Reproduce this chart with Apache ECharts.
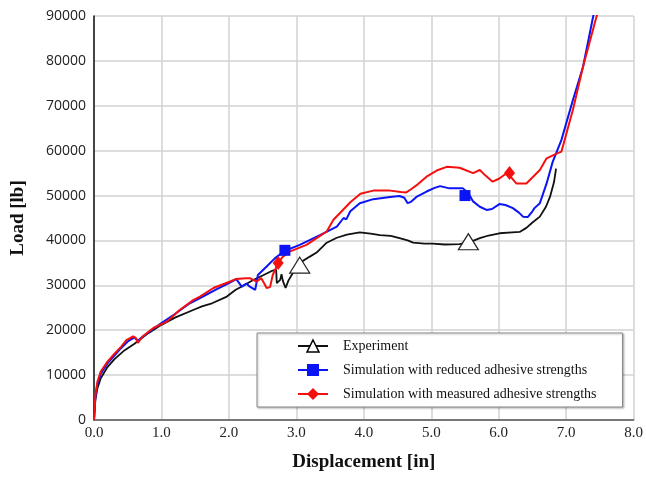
<!DOCTYPE html>
<html>
<head>
<meta charset="utf-8">
<script src="https://cdn.jsdelivr.net/npm/echarts@6/dist/echarts.min.js"></script>
<style>
  html, body { margin: 0; padding: 0; background: #fff; }
  #chart { width: 646px; height: 477px; }
</style>
</head>
<body>
<div id="chart"></div>
<script>
// series names (legend order)
const names = [
  'Experiment',
  'Simulation with reduced adhesive strengths',
  'Simulation with measured adhesive strengths'
]

// [displacement in, load lb]
const experiment = [
  [0,0],[0.02,4500],[0.05,7000],[0.1,9300],[0.2,11800],[0.3,13500],[0.45,15500],[0.6,17000],
  [0.8,19300],[1.0,21200],[1.2,22800],[1.47,24500],[1.6,25300],[1.75,26000],[1.97,27500],
  [2.1,29000],[2.2,29800],[2.36,31200],[2.5,32200],[2.65,33300],[2.7,33500],[2.71,30500],
  [2.76,31200],[2.78,32500],[2.8,31000],[2.84,29400],[2.88,31000],[2.93,32300],[3.05,35000],
  [3.2,36400],[3.3,37300],[3.45,39500],[3.6,40600],[3.75,41300],[3.94,41800],[4.1,41500],
  [4.24,41200],[4.4,41000],[4.53,40500],[4.65,40000],[4.73,39500],[4.9,39300],[5.02,39300],
  [5.2,39100],[5.42,39200],[5.6,39800],[5.72,40500],[5.85,41100],[6.01,41600],[6.2,41800],
  [6.31,41900],[6.41,42800],[6.5,44000],[6.61,45300],[6.7,47500],[6.76,49700],[6.82,53000],
  [6.85,56000]
]
const reduced = [
  [0,0],[0.02,5000],[0.05,8000],[0.1,10300],[0.2,12600],[0.3,14300],[0.4,16000],[0.5,17500],
  [0.6,18400],[0.65,17600],[0.7,18300],[0.85,20000],[1.0,21600],[1.2,23600],[1.4,25800],
  [1.6,27400],[1.8,29000],[2.0,30500],[2.11,31400],[2.19,29700],[2.26,30400],[2.31,29700],
  [2.39,29000],[2.43,32300],[2.56,34200],[2.68,36000],[2.83,37700],[3.05,39000],[3.35,41200],
  [3.6,43100],[3.7,45000],[3.74,44700],[3.8,46500],[3.94,48300],[4.14,49200],[4.39,49700],
  [4.53,49900],[4.6,49500],[4.65,48300],[4.7,48600],[4.78,49700],[4.93,50900],[5.05,51700],
  [5.13,52100],[5.27,51600],[5.47,51600],[5.55,50500],[5.62,48700],[5.72,47500],[5.82,46800],
  [5.9,47000],[6.01,48100],[6.1,47900],[6.21,47200],[6.3,46200],[6.36,45300],[6.43,45200],
  [6.5,46500],[6.53,47200],[6.61,48300],[6.71,52700],[6.8,57500],[6.93,62400],[7.1,71300],
  [7.25,78700],[7.4,89900],[7.45,93000]
]
const measured = [
  [0,0],[0.02,5500],[0.05,8500],[0.1,10800],[0.2,13000],[0.3,14700],[0.4,16300],[0.48,17800],
  [0.58,18600],[0.62,18300],[0.65,17200],[0.68,17800],[0.72,18600],[0.88,20500],[1.08,21900],
  [1.27,24500],[1.47,26700],[1.57,27500],[1.77,29400],[2.01,30800],[2.1,31400],[2.26,31600],
  [2.31,31600],[2.36,31200],[2.41,30800],[2.48,31600],[2.52,30500],[2.56,29400],[2.61,29600],
  [2.65,32300],[2.73,35000],[2.8,36400],[2.9,37500],[3.15,39000],[3.3,40500],[3.45,42000],
  [3.55,44600],[3.64,46000],[3.8,48500],[3.95,50400],[4.14,51100],[4.39,51100],[4.55,50800],
  [4.63,50700],[4.7,51400],[4.8,52500],[4.93,54200],[5.1,55700],[5.23,56400],[5.42,56200],
  [5.62,55000],[5.72,55700],[5.8,54500],[5.91,53100],[6.01,53800],[6.1,54800],[6.16,54500],
  [6.26,52700],[6.41,52700],[6.51,54200],[6.61,55700],[6.71,58300],[6.85,59300],[6.93,59800],
  [7.1,69100],[7.25,78700],[7.45,89900],[7.5,92000]
]

// the few marker symbols drawn on each curve
const experimentMarks = [[3.05,34500],[5.55,39700]]
const reducedMarks = [[2.83,37800],[5.5,50000]]
const measuredMarks = [[2.73,35000],[6.16,55000]]

const serif = '"Liberation Serif", "DejaVu Serif", serif'

let chart = echarts.init(document.getElementById('chart'))

function marks(list) {
  return list.map(p => ({ coord: p }))
}

const option = {
  animation: false,
  backgroundColor: '#fff',
  grid: { left: 94, right: 12, top: 16, bottom: 57 },
  legend: {
    orient: 'vertical',
    left: 257,
    top: 333,
    padding: [6, 26, 6, 40],
    itemWidth: 30,
    itemHeight: 15,
    itemGap: 10,
    backgroundColor: '#fff',
    borderColor: '#8a8a8a',
    borderWidth: 1,
    shadowColor: 'rgba(0,0,0,0.25)',
    shadowBlur: 2,
    shadowOffsetX: 1,
    shadowOffsetY: 1,
    textStyle: { fontFamily: serif, fontSize: 14, color: '#111', padding: [0, 0, 0, 10] },
    data: [
      { name: names[0], itemStyle: { color: '#fff', borderColor: '#000', borderWidth: 1.5 } },
      { name: names[1] },
      { name: names[2] }
    ]
  },
  xAxis: {
    type: 'value',
    min: 0,
    max: 8,
    interval: 1,
    name: 'Displacement [in]',
    nameLocation: 'middle',
    nameGap: 33,
    nameTextStyle: { fontFamily: serif, fontSize: 19, fontWeight: 'bold', color: '#111' },
    axisLine: { lineStyle: { color: '#555', width: 1.5 } },
    axisTick: { show: false },
    axisLabel: {
      margin: 6,
      fontFamily: serif,
      fontSize: 15,
      color: '#222',
      formatter: v => v.toFixed(1)
    },
    splitLine: { show: true, lineStyle: { color: '#d2d2d2', width: 1.5 } }
  },
  yAxis: {
    type: 'value',
    min: 0,
    max: 90000,
    interval: 10000,
    name: 'Load [lb]',
    nameLocation: 'middle',
    nameGap: 66,
    nameTextStyle: { fontFamily: serif, fontSize: 19, fontWeight: 'bold', color: '#111' },
    axisLine: { show: true, lineStyle: { color: '#111', width: 1.5 } },
    axisTick: { show: false },
    axisLabel: {
      margin: 8,
      fontFamily: '"Open Sans", sans-serif',
      fontSize: 14,
      color: '#222',
      formatter: v => String(v)
    },
    splitLine: { show: true, lineStyle: { color: '#d2d2d2', width: 1.5 } }
  },
  series: [
    {
      name: names[0],
      type: 'line',
      data: experiment,
      symbol: 'triangle',
      showSymbol: false,
      lineStyle: { color: '#111', width: 1.8 },
      itemStyle: { color: '#111' },
      z: 2,
      markPoint: {
        symbol: 'triangle',
        symbolSize: [20, 16],
        itemStyle: { color: '#fff', borderColor: '#222', borderWidth: 1.2 },
        label: { show: false },
        data: marks(experimentMarks)
      }
    },
    {
      name: names[1],
      type: 'line',
      data: reduced,
      symbol: 'rect',
      showSymbol: false,
      lineStyle: { color: '#0a14f5', width: 2 },
      itemStyle: { color: '#0a14f5' },
      z: 3,
      markPoint: {
        symbol: 'rect',
        symbolSize: [11, 11],
        itemStyle: { color: '#0a14f5' },
        label: { show: false },
        data: marks(reducedMarks)
      }
    },
    {
      name: names[2],
      type: 'line',
      data: measured,
      symbol: 'diamond',
      showSymbol: false,
      lineStyle: { color: '#f51010', width: 2 },
      itemStyle: { color: '#f51010' },
      z: 4,
      markPoint: {
        symbol: 'diamond',
        symbolSize: [11, 14],
        itemStyle: { color: '#f51010' },
        label: { show: false },
        data: marks(measuredMarks)
      }
    }
  ]
}

chart.setOption(option)
</script>
</body>
</html>
